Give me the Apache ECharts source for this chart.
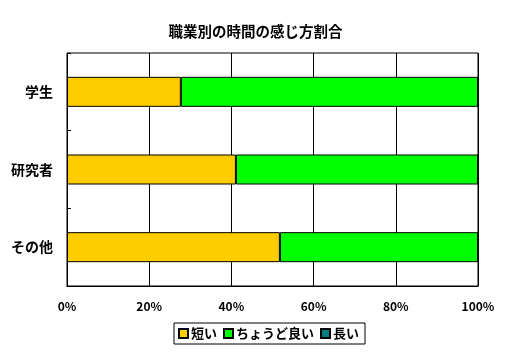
<!DOCTYPE html>
<html><head><meta charset="utf-8">
<script src="https://cdn.jsdelivr.net/npm/echarts@6/dist/echarts.min.js"></script>
<style>html,body{margin:0;padding:0;background:#fff}#c{width:511px;height:361px}</style>
</head><body><div id="c"></div>
<script>
const categories = ['学生', '研究者', 'その他'];
const shortVals = [27.7, 41.1, 51.8];
const justVals = [72.3, 58.9, 48.2];
const longVals = [0, 0, 0];
const xTicks = [0, 20, 40, 60, 80, 100];
const seriesNames = ['短い', 'ちょうど良い', '長い'];
const colors = ['#FFCC00', '#00FF00', '#008080'];

const font = "'Noto Sans CJK JP', sans-serif";
const chart = echarts.init(document.getElementById('c'), null, {renderer: 'canvas'});
const vals = [shortVals, justVals, longVals];
chart.setOption({
  animation: false,
  textStyle: {fontFamily: font},
  title: {
    text: '職業別の時間の感じ方割合',
    left: 'center', top: 19,
    textStyle: {fontSize: 14.5, fontWeight: 'bold', color: '#000', fontFamily: font}
  },
  legend: {
    left: 174, top: 323,
    width: 196,
    padding: [4, 6, 4, 4],
    itemGap: 6,
    itemWidth: 9, itemHeight: 9,
    borderColor: '#000', borderWidth: 1,
    icon: 'rect',
    textStyle: {fontSize: 13, fontWeight: 'bold', color: '#000', fontFamily: font, padding: [0, 0, 0, -2]},
    data: seriesNames
  },
  grid: {
    left: 67, top: 53, right: 33, bottom: 75,
    show: true, borderColor: '#000', borderWidth: 1, backgroundColor: '#fff'
  },
  xAxis: {
    type: 'value', min: 0, max: 100, interval: 20,
    axisLine: {show: true, lineStyle: {color: '#000'}},
    axisTick: {show: false},
    splitLine: {show: true, lineStyle: {color: '#000', width: 1}},
    axisLabel: {
      formatter: v => xTicks.includes(v) ? v + '%' : '',
      color: '#000', fontSize: 12, fontWeight: 'bold', margin: 14, fontFamily: font
    }
  },
  yAxis: {
    type: 'category', inverse: true, data: categories,
    axisLine: {show: true, lineStyle: {color: '#000'}},
    axisTick: {show: true, inside: true, length: 4, lineStyle: {color: '#000'}},
    splitLine: {show: false},
    axisLabel: {color: '#000', fontSize: 14, fontWeight: 'bold', margin: 14, fontFamily: font}
  },
  series: seriesNames.map((n, i) => ({
    name: n, type: 'bar', stack: 'total', barWidth: 30,
    data: vals[i],
    itemStyle: {color: colors[i], borderColor: '#000', borderWidth: 1},
    emphasis: {disabled: true}
  }))
});
</script></body></html>
